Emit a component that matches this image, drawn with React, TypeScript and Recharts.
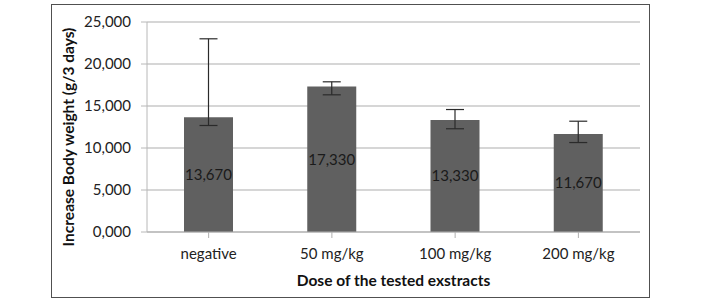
import React from "react";
import { BarChart, Bar, XAxis, YAxis, CartesianGrid, ErrorBar, LabelList } from "recharts";

// Body weight gain per dose group (g / 3 days)
const doses = ["negative", "50 mg/kg", "100 mg/kg", "200 mg/kg"];
const weightGain = [13.67, 17.33, 13.33, 11.67];
// asymmetric error [below, above]
const errorLow = [0.99, 1.0, 1.04, 1.02];
const errorHigh = [9.33, 0.55, 1.25, 1.52];
const yTicks = [0, 5, 10, 15, 20, 25];

const data = doses.map((dose, i) => ({
  dose,
  gain: weightGain[i],
  err: [errorLow[i], errorHigh[i]],
}));

const FONT = "Lato, 'Liberation Sans', sans-serif";
const fmt = (v: number) => v.toFixed(3).replace(".", ",");

const YTitle = (props: any) => {
  const { viewBox } = props;
  const cx = viewBox.x + 17;
  const cy = viewBox.y + viewBox.height / 2 + 10;
  return (
    <text
      x={cx}
      y={cy}
      transform={`rotate(-90 ${cx} ${cy})`}
      textAnchor="middle"
      dominantBaseline="central"
      fontFamily={FONT}
      fontWeight="bold"
      fontSize={15.5}
      fill="#111"
    >
      Increase Body weight (g/3 days)
    </text>
  );
};

const XTitle = (props: any) => {
  const { viewBox } = props;
  const cx = viewBox.x + viewBox.width / 2;
  const cy = viewBox.y + 48;
  return (
    <text
      x={cx}
      y={cy}
      textAnchor="middle"
      dominantBaseline="central"
      fontFamily={FONT}
      fontWeight="bold"
      fontSize={15.5}
      fill="#111"
    >
      Dose of the tested exstracts
    </text>
  );
};

export default function App() {
  return (
    <div style={{ position: "absolute", left: 0, top: 0, width: 714, height: 302, background: "#fff" }}>
      <div
        style={{
          position: "absolute",
          left: 51,
          top: 4,
          width: 597,
          height: 292,
          border: "1.5px solid #505050",
        }}
      />
      <div style={{ position: "absolute", left: 0, top: 0 }}>
        <BarChart
          width={714}
          height={302}
          data={data}
          margin={{ top: 22, right: 74, left: 51, bottom: 0 }}
          barSize={49}
        >
          <CartesianGrid vertical={false} stroke="#c8c8c8" strokeWidth={1.6} />
          <XAxis
            dataKey="dose"
            height={70}
            stroke="#b0b0b0"
            tickSize={6}
            tickMargin={10}
            tick={{ fontFamily: FONT, fontSize: 15, fill: "#222" }}
            label={<XTitle />}
          />
          <YAxis
            width={96}
            domain={[0, 25]}
            ticks={yTicks}
            tickFormatter={fmt}
            stroke="#b8b8b8"
            tickSize={6}
            tickMargin={10}
            tick={{ fontFamily: FONT, fontSize: 15, fill: "#222" }}
            label={<YTitle />}
          />
          <Bar dataKey="gain" fill="#606060" isAnimationActive={false}>
            <ErrorBar dataKey="err" direction="y" width={9} stroke="#2a2a2a" strokeWidth={1.2} />
            <LabelList
              dataKey="gain"
              position="center"
              formatter={(v: any) => fmt(Number(v))}
              style={{ fontFamily: FONT, fontSize: 15, fill: "#1a1a1a" }}
            />
          </Bar>
        </BarChart>
      </div>
    </div>
  );
}
